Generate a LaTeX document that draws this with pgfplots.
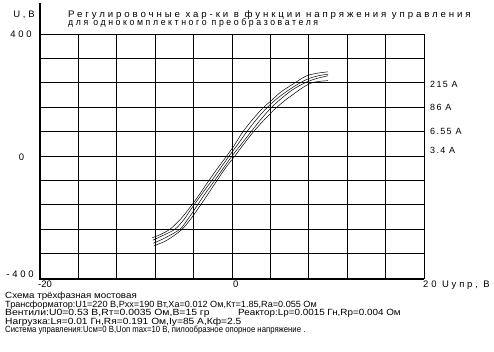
\documentclass[border=0pt]{standalone}
\usepackage{graphicx}
\usepackage{fontspec}
\setmainfont{Liberation Sans}
\newfontfamily\widefont[LetterSpace=30]{Liberation Sans}
\newfontfamily\midfont[LetterSpace=15]{Liberation Sans}
\usepackage{pgfplots}
\pgfplotsset{compat=1.18}
\begin{document}
\begin{tikzpicture}[x=1bp,y=1bp]
\path (0,0) rectangle (494,351);
\begin{axis}[
  at={(40bp,73bp)}, anchor=south west,
  scale only axis, width=384bp, height=244bp,
  xmin=-20, xmax=20, ymin=-400, ymax=400,
  xtick={-16,-12,...,16}, ytick={-320,-240,...,320},
  xticklabels={}, yticklabels={},
  major tick length=0pt,
  grid=major,
  grid style={black, line width=0.9bp},
  axis line style={black, line width=0.9bp},
  clip=true,
]
\addplot[black, line width=0.5bp, smooth] coordinates {
(-8.3,-268) (-7.5,-258) (-6.46,-240) (-5.3,-205) (-4.17,-160) (-3.3,-122) (-2.4,-80) (-1.5,-40) (-0.55,0) (0.3,38) (1.1,78) (2.15,120) (3.2,157) (3.96,178) (5.1,210) (6.56,240) (7.3,255) (7.95,265) (9,272) (10,276)};
\addplot[black, line width=0.5bp, smooth] coordinates {
(-8.25,-276) (-7.3,-262) (-5.94,-240) (-5.0,-208) (-4.17,-170) (-3.15,-125) (-2.1,-80) (-1.2,-40) (-0.3,0) (0.6,38) (1.5,78) (2.55,120) (3.6,157) (4.6,186) (5.8,214) (7.1,240) (8,254) (9,263) (10,268)};
\addplot[black, line width=0.5bp, smooth] coordinates {
(-8.2,-286) (-7.0,-269) (-5.42,-240) (-4.6,-207) (-4.0,-180) (-2.9,-128) (-1.8,-80) (-0.9,-40) (0,0) (1.0,40) (1.95,78) (2.95,118) (3.96,154) (5.0,185) (6.3,217) (7.6,240) (8.7,253) (10,263)};
\addplot[black, line width=0.5bp, smooth] coordinates {
(-8.1,-294) (-7.0,-280) (-6.0,-260) (-5.1,-237) (-4.17,-201) (-3.0,-148) (-1.6,-82) (-0.65,-38) (0.3,0) (1.25,40) (2.2,78) (3.1,110) (3.96,138) (4.5,155) (5.5,182) (6.5,205) (7.4,225) (8.3,240) (9.2,245) (10,247)};
\end{axis}
\draw[line width=2bp] (40,348) -- (40,72) -- (424,72);
\node[anchor=base, font=\widefont\fontsize{9.5}{10}\selectfont] at (24,334) {U,В};
\node[anchor=base west, inner sep=0pt, font=\widefont\fontsize{9.5}{10}\selectfont] at (68,334) {\scalebox{1.02}[1]{Регулировочные хар-ки в функции напряжения управления}};
\node[anchor=base west, inner sep=0pt, font=\widefont\fontsize{9.5}{10}\selectfont] at (68,326) {\scalebox{0.92}[1]{для однокомплектного преобразователя}};
\node[anchor=base, font=\widefont\fontsize{9.5}{10}\selectfont] at (21,314) {400};
\node[anchor=base, font=\widefont\fontsize{9.5}{10}\selectfont] at (21.5,191) {0};
\node[anchor=base, font=\widefont\fontsize{9.5}{10}\selectfont] at (20,74) {-400};
\node[anchor=base west, inner sep=0pt, font=\fontsize{9.5}{10}\selectfont] at (38,64) {-20};
\node[anchor=base west, inner sep=0pt, font=\fontsize{9.5}{10}\selectfont] at (233,64) {0};
\node[anchor=base west, inner sep=0pt, font=\widefont\fontsize{9.5}{10}\selectfont] at (423,64) {20 Uупр, В};
\node[anchor=base west, inner sep=0pt, font=\midfont\fontsize{9}{10}\selectfont] at (430,264) {215 А};
\node[anchor=base west, inner sep=0pt, font=\midfont\fontsize{9}{10}\selectfont] at (430,241) {86 А};
\node[anchor=base west, inner sep=0pt, font=\midfont\fontsize{9}{10}\selectfont] at (430,217) {6.55 А};
\node[anchor=base west, inner sep=0pt, font=\midfont\fontsize{9}{10}\selectfont] at (430,198) {3.4 А};
\begin{scope}[every node/.style={anchor=base west, inner sep=0pt, font=\fontsize{9}{10}\selectfont}]
\node at (5,53) {\scalebox{1.09}[1]{Схема трёхфазная мостовая}};
\node at (5,44) {\scalebox{1.016}[1]{Трансформатор:U1=220 В,Рхх=190 Вт,Xa=0.012 Ом,Кт=1.85,Ra=0.055 Ом}};
\node at (5,35.5) {\scalebox{1.16}[1]{Вентили:U0=0.53 В,Rт=0.0035 Ом,B=15 гр}};
\node at (238,35.5) {\scalebox{1.10}[1]{Реактор:Lр=0.0015 Гн,Rр=0.004 Ом}};
\node at (5,27) {\scalebox{1.14}[1]{Нагрузка:Lя=0.01 Гн,Rя=0.191 Ом,Iу=85 А,Кф=2.5}};
\node at (5,18.5) {\scalebox{0.865}[1]{Система управления:Uсм=0 В,Uоп max=10 В, пилообразное опорное напряжение .}};
\end{scope}
\end{tikzpicture}
\end{document}
